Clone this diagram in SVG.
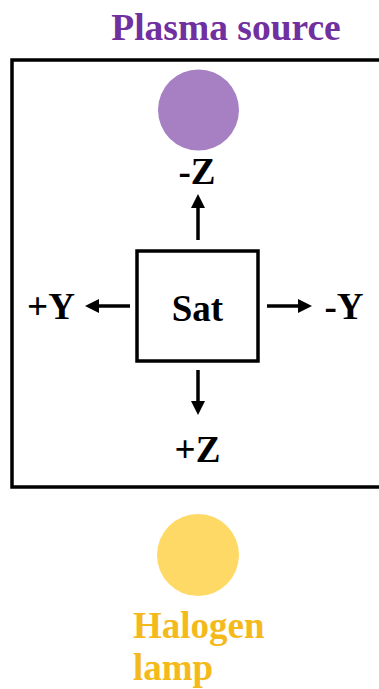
<svg xmlns="http://www.w3.org/2000/svg" width="379" height="689" viewBox="0 0 379 689">
<defs>
<marker id="ah" viewBox="0 0 14 14" refX="2" refY="7" markerWidth="14" markerHeight="14" orient="auto" markerUnits="userSpaceOnUse">
<path d="M0,0 L14,7 L0,14 z" fill="#000"/>
</marker>
</defs>
<rect width="379" height="689" fill="#fff"/>
<g font-family="Liberation Serif, Times New Roman, DejaVu Serif, serif" font-weight="bold">
<g id="title"><text x="226" y="40" font-size="37.5" fill="#7030A0" text-anchor="middle">Plasma source</text></g>
<g id="frame"><rect x="12" y="60" width="380" height="427" stroke="#000" stroke-width="3.5" fill="none"/></g>
<g id="plasma"><circle cx="198.5" cy="110" r="40.5" fill="#A680C2"/></g>
<g id="sat"><rect x="137" y="251" width="121" height="110" stroke="#000" stroke-width="3.5" fill="none"/><text x="197.5" y="321" font-size="37" text-anchor="middle">Sat</text></g>
<g id="lab-mz"><text x="197" y="184" font-size="37" text-anchor="middle">-Z</text></g>
<g id="lab-pz"><text x="197.5" y="462" font-size="37" text-anchor="middle">+Z</text></g>
<g id="lab-py"><text x="51" y="319" font-size="37" text-anchor="middle">+Y</text></g>
<g id="lab-my"><text x="344" y="319" font-size="37" text-anchor="middle">-Y</text></g>
<g id="connectors" stroke="#000" stroke-width="3.5">
<line x1="198" y1="240" x2="198" y2="206" marker-end="url(#ah)"/>
<line x1="198" y1="370" x2="198" y2="403" marker-end="url(#ah)"/>
<line x1="130" y1="306" x2="97" y2="306" marker-end="url(#ah)"/>
<line x1="267" y1="306" x2="300" y2="306" marker-end="url(#ah)"/>
</g>
<g id="halogen"><circle cx="198" cy="555" r="41" fill="#FFD966"/>
<text x="133" y="638" font-size="37" fill="#F4BA1B">Halogen</text>
<text x="133" y="680" font-size="37" fill="#F4BA1B">lamp</text></g>
</g>
</svg>
